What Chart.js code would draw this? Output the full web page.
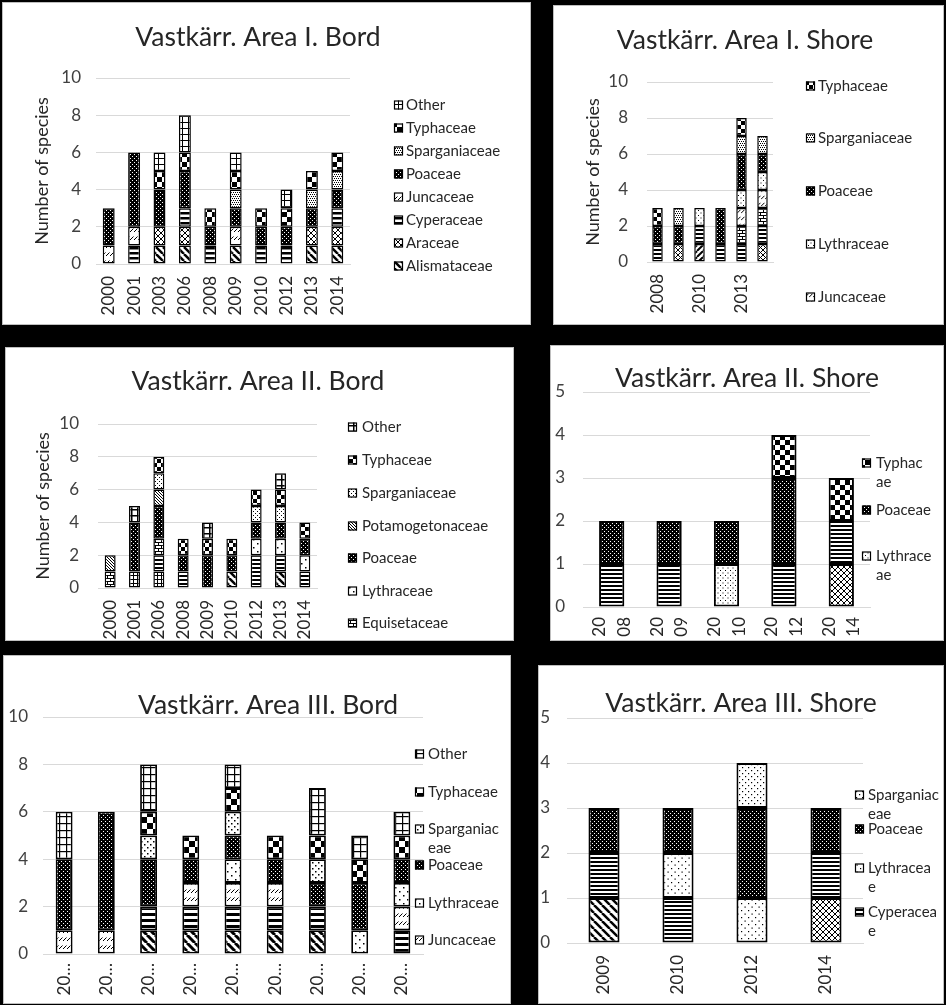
<!DOCTYPE html>
<html>
<head>
<meta charset="utf-8">
<script src="https://cdn.jsdelivr.net/npm/chart.js@4"></script>
<style>
  body { margin: 0; background: #000; width: 946px; height: 1005px; position: relative; overflow: hidden; }
  .panel { position: absolute; background: #fff; outline: 1px solid #bfbfbf; outline-offset: -1px; }
  .panel canvas { position: absolute; left: 0; top: 0; }
</style>
</head>
<body>
<script>
// Vastkarr, number of species per family

// Area I. Bord
var bordIYears = ['2000', '2001', '2003', '2006', '2008', '2009', '2010', '2012', '2013', '2014'];
var bordIAlismataceae  = [0, 0, 1, 1, 0, 1, 0, 0, 1, 1];
var bordIAraceae       = [0, 0, 1, 1, 0, 0, 0, 0, 1, 1];
var bordICyperaceae    = [0, 1, 0, 1, 1, 0, 1, 1, 0, 1];
var bordIJuncaceae     = [1, 1, 0, 0, 0, 1, 0, 0, 0, 0];
var bordIPoaceae       = [2, 4, 2, 2, 1, 1, 1, 1, 1, 1];
var bordISparganiaceae = [0, 0, 0, 0, 0, 1, 0, 0, 1, 1];
var bordITyphaceae     = [0, 0, 1, 1, 1, 1, 1, 1, 1, 1];
var bordIOther         = [0, 0, 1, 2, 0, 1, 0, 1, 0, 0];

// Area I. Shore
var shoreIYears = ['2008', '2009', '2010', '2012', '2013', '2014'];
var shoreIAlismataceae  = [0, 0, 1, 0, 0, 0];
var shoreIAraceae       = [0, 1, 0, 0, 0, 1];
var shoreICyperaceae    = [1, 0, 1, 1, 1, 1];
var shoreIEquisetaceae  = [0, 0, 0, 0, 1, 1];
var shoreIJuncaceae     = [0, 0, 0, 0, 1, 1];
var shoreILythraceae    = [0, 0, 1, 0, 1, 1];
var shoreIPoaceae       = [1, 1, 0, 2, 2, 1];
var shoreISparganiaceae = [0, 1, 0, 0, 1, 1];
var shoreITyphaceae     = [1, 0, 0, 0, 1, 0];

// Area II. Bord
var bordIIYears = ['2000', '2001', '2006', '2008', '2009', '2010', '2012', '2013', '2014'];
var bordIIAlismataceae     = [0, 0, 0, 0, 0, 1, 0, 1, 0];
var bordIIAraceae          = [0, 1, 1, 0, 0, 0, 0, 0, 0];
var bordIICyperaceae       = [0, 0, 1, 1, 0, 0, 2, 1, 1];
var bordIIEquisetaceae     = [1, 0, 1, 0, 0, 0, 0, 0, 0];
var bordIILythraceae       = [0, 0, 0, 0, 0, 0, 1, 1, 1];
var bordIIPoaceae          = [0, 3, 2, 1, 2, 1, 1, 1, 1];
var bordIIPotamogetonaceae = [1, 0, 1, 0, 0, 0, 0, 0, 0];
var bordIISparganiaceae    = [0, 0, 1, 0, 0, 0, 1, 1, 0];
var bordIITyphaceae        = [0, 0, 1, 1, 1, 1, 1, 1, 1];
var bordIIOther            = [0, 1, 0, 0, 1, 0, 0, 1, 0];

// Area II. Shore
var shoreIIYears = ['2008', '2009', '2010', '2012', '2014'];
var shoreIIAraceae    = [0, 0, 0, 0, 1];
var shoreIICyperaceae = [1, 1, 0, 1, 1];
var shoreIILythraceae = [0, 0, 1, 0, 0];
var shoreIIPoaceae    = [1, 1, 1, 2, 0];
var shoreIITyphaceae  = [0, 0, 0, 1, 1];

// Area III. Bord
var bordIIIYears = ['2000', '2001', '2006', '2008', '2009', '2010', '2012', '2013', '2014'];
var bordIIIAlismataceae  = [0, 0, 1, 1, 1, 1, 1, 0, 0];
var bordIIICyperaceae    = [0, 0, 1, 1, 1, 1, 1, 0, 1];
var bordIIIJuncaceae     = [1, 1, 0, 1, 1, 1, 0, 0, 1];
var bordIIILythraceae    = [0, 0, 0, 0, 1, 0, 0, 1, 1];
var bordIIIPoaceae       = [3, 5, 2, 1, 1, 1, 1, 2, 1];
var bordIIISparganiaceae = [0, 0, 1, 0, 1, 0, 1, 0, 0];
var bordIIITyphaceae     = [0, 0, 1, 1, 1, 1, 1, 1, 1];
var bordIIIOther         = [2, 0, 2, 0, 1, 0, 2, 1, 1];

// Area III. Shore
var shoreIIIYears = ['2009', '2010', '2012', '2014'];
var shoreIIIAlismataceae  = [1, 0, 0, 0];
var shoreIIIAraceae       = [0, 0, 0, 1];
var shoreIIICyperaceae    = [1, 1, 0, 1];
var shoreIIILythraceae    = [0, 1, 1, 0];
var shoreIIIPoaceae       = [1, 1, 2, 1];
var shoreIIISparganiaceae = [0, 0, 1, 0];

var FONT = 'Lato, "Open Sans", sans-serif';
Chart.defaults.font.family = FONT;
Chart.defaults.color = '#262626';

// black & white Excel-like fill patterns
function makePattern(kind, s, w) {
  var c = document.createElement('canvas');
  var g = c.getContext('2d');
  function tile(W, H) {
    c.width = W; c.height = H;
    g.fillStyle = '#fff'; g.fillRect(0, 0, W, H);
    g.fillStyle = '#000'; g.strokeStyle = '#000';
  }
  if (kind == 'check') { tile(2 * s, 2 * s); g.fillRect(0, 0, s, s); g.fillRect(s, s, s, s); }
  else if (kind == 'hor') { tile(4, s); g.fillRect(0, 0, 4, w); }
  else if (kind == 'grid') { tile(s, s); g.fillRect(0, 0, s, w); g.fillRect(0, 0, w, s); }
  else if (kind == 'poa') { tile(s, s); g.fillRect(0, 0, s, s); g.fillStyle = '#fff'; g.fillRect(0, 0, 1, 1); g.fillRect(s / 2, s / 2, 1, 1); }
  else if (kind == 'dots') { tile(s, s); g.fillRect(0, 0, w, w); g.fillRect(s / 2, s / 2, w, w); }
  else if (kind == 'dense') { tile(4, 4); [[0, 0], [2, 0], [1, 2], [3, 2]].forEach(function (p) { g.fillRect(p[0], p[1], 1, 1); }); }
  else if (kind == 'junc') { tile(4, s); g.lineWidth = 1; g.beginPath(); g.moveTo(0, s * 0.75); g.lineTo(3.5, s * 0.75 - 3.5); g.stroke(); }
  else if (kind == 'brick') { tile(s, s); g.fillRect(0, 0, s, 1); g.fillRect(0, s / 2, s, 1); g.fillRect(0, 0, 1, s / 2); g.fillRect(s / 2, s / 2, 1, s / 2); }
  else {
    tile(s, s); g.lineWidth = w;
    [-s, 0, s].forEach(function (o) {
      if (kind != 'fdiag') { g.beginPath(); g.moveTo(o, 0); g.lineTo(o + s, s); g.stroke(); }
      if (kind != 'bdiag') { g.beginPath(); g.moveTo(o, s); g.lineTo(o + s, 0); g.stroke(); }
    });
  }
  return g.createPattern(c, 'repeat');
}

// title + (cut off) Excel legend drawn inside each panel
var panelText = {
  id: 'panelText',
  afterDraw: function (chart, args, o) {
    var ctx = chart.ctx;
    ctx.save();
    ctx.textBaseline = 'middle';
    ctx.textAlign = 'center';
    ctx.fillStyle = '#262626';
    ctx.font = o.titleSize + 'px ' + FONT;
    ctx.fillText(o.title, o.titleX, o.titleY);
    ctx.textAlign = 'left';
    ctx.font = o.legendSize + 'px ' + FONT;
    o.legend.forEach(function (it) {
      var ds = chart.data.datasets.find(function (d) { return d.label == it.name; });
      ctx.fillStyle = ds.backgroundColor;
      ctx.fillRect(o.markX, it.y - 4.5, 9, 9);
      ctx.strokeStyle = '#000';
      ctx.lineWidth = 1.2;
      ctx.strokeRect(o.markX + 0.5, it.y - 4, 8, 8);
      ctx.fillStyle = '#262626';
      var lines = it.lines || [it.name];
      lines.forEach(function (t, i) { ctx.fillText(t, o.textX, it.y + i * 19); });
    });
    ctx.restore();
  }
};

function buildChart(p) {
  var div = document.createElement('div');
  div.className = 'panel';
  div.style.left = p.x + 'px'; div.style.top = p.y + 'px';
  div.style.width = p.w + 'px'; div.style.height = p.h + 'px';
  var cv = document.createElement('canvas');
  cv.width = p.w; cv.height = p.h;
  cv.style.width = p.w + 'px'; cv.style.height = p.h + 'px';
  div.appendChild(cv);
  document.body.appendChild(div);

  var yW = p.ca[0] - p.x, xH = p.y + p.h - p.ca[3];
  var datasets = p.series.map(function (sr) {
    return {
      label: sr[0],
      data: sr[1].map(function (v) { return v === 0 ? null : v; }),
      backgroundColor: p.fills[sr[0]],
      borderColor: '#000',
      borderWidth: p.bw,
      borderSkipped: false,
      barPercentage: p.barPct,
      categoryPercentage: 1
    };
  });

  new Chart(cv, {
    type: 'bar',
    data: { labels: p.labels, datasets: datasets },
    options: {
      responsive: false,
      animation: false,
      layout: { padding: { left: 0, bottom: 0, top: p.ca[1] - p.y, right: p.x + p.w - p.ca[2] } },
      plugins: {
        legend: { display: false },
        tooltip: { enabled: false },
        panelText: {
          title: p.title, titleX: p.titleX, titleY: p.titleY, titleSize: 26.5,
          legend: p.legend, markX: p.markX, textX: p.textX, legendSize: 15
        }
      },
      scales: {
        x: {
          stacked: true,
          grid: { display: false, drawTicks: false },
          border: { display: true, color: '#d9d9d9' },
          ticks: {
            minRotation: 90, maxRotation: 90, autoSkip: false, padding: p.xPad, labelOffset: p.xOff || 0,
            font: { size: 17, lineHeight: 1.45 }, color: '#262626',
            callback: function (v, i) { return p.tick(this.getLabelForValue(v), i); }
          },
          afterFit: function (s) { s.height = xH; }
        },
        y: {
          stacked: true, min: 0, max: p.yMax,
          grid: { color: '#d9d9d9', drawTicks: false },
          border: { display: false },
          ticks: { stepSize: p.step, padding: p.yPad, font: { size: 17 }, color: '#404040' },
          title: p.yTitle
            ? { display: true, text: 'Number of species', font: { size: 18 }, color: '#262626', padding: { top: p.yTitle, bottom: 0 } }
            : { display: false },
          afterFit: function (s) { s.width = yW; }
        }
      }
    },
    plugins: [panelText]
  });
}

function plain(l) { return l; }

buildChart({
  x: 2, y: 2, w: 529, h: 323, ca: [96, 78, 350, 264],
  title: 'Vastkärr. Area I. Bord', titleX: 256, titleY: 35, yTitle: 29, yPad: 15,
  labels: bordIYears, yMax: 10, step: 2, xPad: 12, barPct: 0.47, bw: 1.5, tick: plain,
  series: [['Alismataceae', bordIAlismataceae], ['Araceae', bordIAraceae], ['Cyperaceae', bordICyperaceae],
           ['Juncaceae', bordIJuncaceae], ['Poaceae', bordIPoaceae], ['Sparganiaceae', bordISparganiaceae],
           ['Typhaceae', bordITyphaceae], ['Other', bordIOther]],
  fills: {
    Alismataceae: makePattern('bdiag', 7, 2.5), Araceae: makePattern('cross', 6, 1), Cyperaceae: makePattern('hor', 5, 2.5),
    Juncaceae: makePattern('junc', 8), Poaceae: makePattern('poa', 4), Sparganiaceae: makePattern('dense'),
    Typhaceae: makePattern('check', 5), Other: makePattern('grid', 6, 1)
  },
  markX: 392, textX: 404,
  legend: [{ name: 'Other', y: 103 }, { name: 'Typhaceae', y: 126 }, { name: 'Sparganiaceae', y: 149 }, { name: 'Poaceae', y: 172 },
           { name: 'Juncaceae', y: 195 }, { name: 'Cyperaceae', y: 218 }, { name: 'Araceae', y: 241 }, { name: 'Alismataceae', y: 264 }]
});

buildChart({
  x: 553, y: 5, w: 391, h: 320, ca: [647, 82, 773, 262],
  title: 'Vastkärr. Area I. Shore', titleX: 192, titleY: 35, yTitle: 29, yPad: 19,
  labels: shoreIYears, yMax: 10, step: 2, xPad: 12, barPct: 0.5, bw: 1.5,
  tick: function (l, i) { return i % 2 == 0 ? l : ''; },
  series: [['Alismataceae', shoreIAlismataceae], ['Araceae', shoreIAraceae], ['Cyperaceae', shoreICyperaceae],
           ['Equisetaceae', shoreIEquisetaceae], ['Juncaceae', shoreIJuncaceae], ['Lythraceae', shoreILythraceae],
           ['Poaceae', shoreIPoaceae], ['Sparganiaceae', shoreISparganiaceae], ['Typhaceae', shoreITyphaceae]],
  fills: {
    Alismataceae: makePattern('fdiag', 6, 2), Araceae: makePattern('cross', 5, 1), Cyperaceae: makePattern('hor', 4, 2),
    Equisetaceae: makePattern('brick', 6), Juncaceae: makePattern('junc', 7), Lythraceae: makePattern('dots', 5, 1),
    Poaceae: makePattern('poa', 4), Sparganiaceae: makePattern('dense'), Typhaceae: makePattern('check', 4)
  },
  markX: 253, textX: 265,
  legend: [{ name: 'Typhaceae', y: 81 }, { name: 'Sparganiaceae', y: 133 }, { name: 'Poaceae', y: 186 },
           { name: 'Lythraceae', y: 239 }, { name: 'Juncaceae', y: 292 }]
});

buildChart({
  x: 5, y: 347, w: 509, h: 294, ca: [98, 424, 317, 588],
  title: 'Vastkärr. Area II. Bord', titleX: 253, titleY: 34, yTitle: 27, yPad: 19,
  labels: bordIIYears, yMax: 10, step: 2, xPad: 12, barPct: 0.45, bw: 1.5, tick: plain,
  series: [['Alismataceae', bordIIAlismataceae], ['Araceae', bordIIAraceae], ['Cyperaceae', bordIICyperaceae],
           ['Equisetaceae', bordIIEquisetaceae], ['Lythraceae', bordIILythraceae], ['Poaceae', bordIIPoaceae],
           ['Potamogetonaceae', bordIIPotamogetonaceae], ['Sparganiaceae', bordIISparganiaceae],
           ['Typhaceae', bordIITyphaceae], ['Other', bordIIOther]],
  fills: {
    Alismataceae: makePattern('bdiag', 7, 2.5), Araceae: makePattern('grid', 4, 1), Cyperaceae: makePattern('hor', 4, 2),
    Equisetaceae: makePattern('brick', 6), Lythraceae: makePattern('dots', 8, 1.5), Poaceae: makePattern('poa', 4),
    Potamogetonaceae: makePattern('bdiag', 3, 1), Sparganiaceae: makePattern('dots', 4, 1),
    Typhaceae: makePattern('check', 4), Other: makePattern('grid', 6, 1.5)
  },
  markX: 343, textX: 357,
  legend: [{ name: 'Other', y: 80 }, { name: 'Typhaceae', y: 113 }, { name: 'Sparganiaceae', y: 146 },
           { name: 'Potamogetonaceae', y: 179 }, { name: 'Poaceae', y: 211 }, { name: 'Lythraceae', y: 244 },
           { name: 'Equisetaceae', y: 276 }]
});

buildChart({
  x: 550, y: 345, w: 394, h: 296, ca: [583, 392, 870, 607],
  title: 'Vastkärr. Area II. Shore', titleX: 197, titleY: 33, yTitle: 0, yPad: 18,
  labels: shoreIIYears, yMax: 5, step: 1, xPad: 10, xOff: -12, barPct: 0.44, bw: 2,
  tick: function (l) { return [l.slice(0, 2), l.slice(2)]; },
  series: [['Araceae', shoreIIAraceae], ['Cyperaceae', shoreIICyperaceae], ['Lythraceae', shoreIILythraceae],
           ['Poaceae', shoreIIPoaceae], ['Typhaceae', shoreIITyphaceae]],
  fills: {
    Araceae: makePattern('cross', 6, 1), Cyperaceae: makePattern('hor', 4, 2), Lythraceae: makePattern('dots', 5, 1),
    Poaceae: makePattern('poa', 4), Typhaceae: makePattern('check', 5)
  },
  markX: 312, textX: 326,
  legend: [{ name: 'Typhaceae', lines: ['Typhac', 'ae'], y: 118 }, { name: 'Poaceae', y: 165 },
           { name: 'Lythraceae', lines: ['Lythrace', 'ae'], y: 211 }]
});

buildChart({
  x: 3, y: 655, w: 508, h: 349, ca: [43, 717, 423, 954],
  title: 'Vastkärr. Area III. Bord', titleX: 265, titleY: 50, yTitle: 0, yPad: 15,
  labels: bordIIIYears, yMax: 10, step: 2, xPad: 9, barPct: 0.4, bw: 1.8,
  tick: function (l) { return l.slice(0, 2) + '…'; },
  series: [['Alismataceae', bordIIIAlismataceae], ['Cyperaceae', bordIIICyperaceae], ['Juncaceae', bordIIIJuncaceae],
           ['Lythraceae', bordIIILythraceae], ['Poaceae', bordIIIPoaceae], ['Sparganiaceae', bordIIISparganiaceae],
           ['Typhaceae', bordIIITyphaceae], ['Other', bordIIIOther]],
  fills: {
    Alismataceae: makePattern('bdiag', 8, 3), Cyperaceae: makePattern('hor', 6, 3), Juncaceae: makePattern('junc', 8),
    Lythraceae: makePattern('dots', 8, 1.5), Poaceae: makePattern('poa', 4), Sparganiaceae: makePattern('dots', 6, 1.5),
    Typhaceae: makePattern('check', 6), Other: makePattern('grid', 7, 1.2)
  },
  markX: 412, textX: 425,
  legend: [{ name: 'Other', y: 99 }, { name: 'Typhaceae', y: 137 }, { name: 'Sparganiaceae', lines: ['Sparganiac', 'eae'], y: 174 },
           { name: 'Poaceae', y: 210 }, { name: 'Lythraceae', y: 248 }, { name: 'Juncaceae', y: 285 }]
});

buildChart({
  x: 538, y: 665, w: 406, h: 339, ca: [567, 718, 863, 943],
  title: 'Vastkärr. Area III. Shore', titleX: 203, titleY: 38, yTitle: 0, yPad: 17,
  labels: shoreIIIYears, yMax: 5, step: 1, xPad: 12, barPct: 0.42, bw: 2, tick: plain,
  series: [['Alismataceae', shoreIIIAlismataceae], ['Araceae', shoreIIIAraceae], ['Cyperaceae', shoreIIICyperaceae],
           ['Lythraceae', shoreIIILythraceae], ['Poaceae', shoreIIIPoaceae], ['Sparganiaceae', shoreIIISparganiaceae]],
  fills: {
    Alismataceae: makePattern('bdiag', 8, 2.5), Araceae: makePattern('cross', 6, 1), Cyperaceae: makePattern('hor', 4, 2),
    Lythraceae: makePattern('dots', 7, 1.2), Poaceae: makePattern('poa', 4), Sparganiaceae: makePattern('dots', 6, 1.2)
  },
  markX: 317, textX: 330,
  legend: [{ name: 'Sparganiaceae', lines: ['Sparganiac', 'eae'], y: 130 }, { name: 'Poaceae', y: 164 },
           { name: 'Lythraceae', lines: ['Lythracea', 'e'], y: 203 }, { name: 'Cyperaceae', lines: ['Cyperacea', 'e'], y: 247 }]
});
</script>
</body>
</html>
